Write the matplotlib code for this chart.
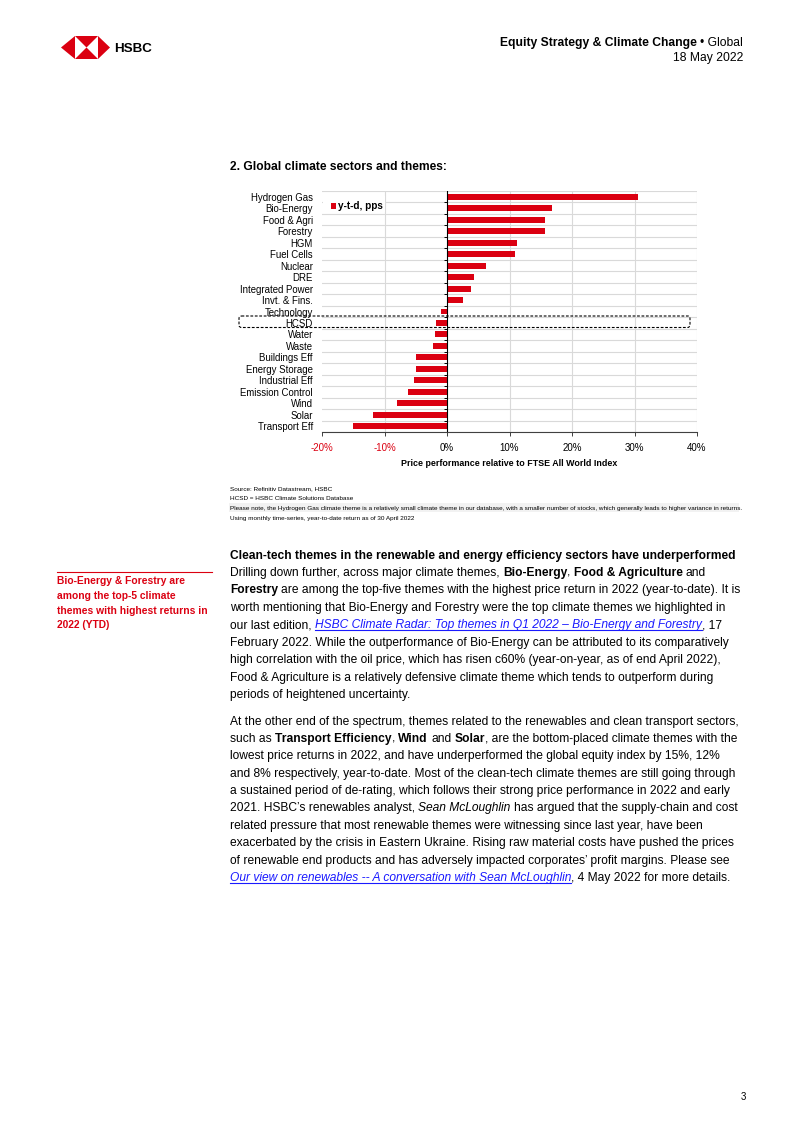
import matplotlib
matplotlib.use('Agg')
import matplotlib.pyplot as plt
from matplotlib import font_manager
from matplotlib.patches import Polygon, FancyBboxPatch, Rectangle
import numpy as np

# chart data (y-t-d, pps relative to FTSE All World)
themes = ['Hydrogen Gas', 'Bio-Energy', 'Food & Agri', 'Forestry', 'HGM', 'Fuel Cells',
          'Nuclear', 'DRE', 'Integrated Power', 'Invt. & Fins.', 'Technology', 'HCSD',
          'Water', 'Waste', 'Buildings Eff', 'Energy Storage', 'Industrial Eff',
          'Emission Control', 'Wind', 'Solar', 'Transport Eff']
ytd = [30.5, 16.8, 15.7, 15.6, 11.2, 10.8, 6.2, 4.3, 3.8, 2.5, -0.9, -1.8,
       -2.0, -2.3, -4.9, -5.0, -5.3, -6.3, -8.0, -11.9, -15.0]
xticks = [-20, -10, 0, 10, 20, 30, 40]
xticklabels = ['-20%', '-10%', '0%', '10%', '20%', '30%', '40%']

notes = ['Source: Refinitiv Datastream, HSBC',
         'HCSD = HSBC Climate Solutions Database',
         'Please note, the Hydrogen Gas climate theme is a relatively small climate theme in our database, '
         'with a smaller number of stocks, which generally leads to higher variance in returns.',
         'Using monthly time-series, year-to-date return as of 30 April 2022']

para1 = [
    [('Clean-tech themes in the renewable and energy efficiency sectors have underperformed', 'b')],
    [('Drilling down further, across major climate themes, ', 'n'), ('Bio-Energy', 'b'), (', ', 'n'),
     ('Food & Agriculture', 'b'), (' and', 'n')],
    [('Forestry', 'b'), (' are among the top-five themes with the highest price return in 2022 (year-to-date). It is', 'n')],
    [('worth mentioning that Bio-Energy and Forestry were the top climate themes we highlighted in', 'n')],
    [('our last edition, ', 'n'), ('HSBC Climate Radar: Top themes in Q1 2022 \u2013 Bio-Energy and Forestry', 'l'),
     (', 17', 'n')],
    [('February 2022. While the outperformance of Bio-Energy can be attributed to its comparatively', 'n')],
    [('high correlation with the oil price, which has risen c60% (year-on-year, as of end April 2022),', 'n')],
    [('Food & Agriculture is a relatively defensive climate theme which tends to outperform during', 'n')],
    [('periods of heightened uncertainty.', 'n')],
]
para2 = [
    [('At the other end of the spectrum, themes related to the renewables and clean transport sectors,', 'n')],
    [('such as ', 'n'), ('Transport Efficiency', 'b'), (', ', 'n'), ('Wind', 'b'), (' and ', 'n'), ('Solar', 'b'),
     (', are the bottom-placed climate themes with the', 'n')],
    [('lowest price returns in 2022, and have underperformed the global equity index by 15%, 12%', 'n')],
    [('and 8% respectively, year-to-date. Most of the clean-tech climate themes are still going through', 'n')],
    [('a sustained period of de-rating, which follows their strong price performance in 2022 and early', 'n')],
    [('2021. HSBC\u2019s renewables analyst, ', 'n'), ('Sean McLoughlin', 'i'),
     (' has argued that the supply-chain and cost', 'n')],
    [('related pressure that most renewable themes were witnessing since last year, have been', 'n')],
    [('exacerbated by the crisis in Eastern Ukraine. Rising raw material costs have pushed the prices', 'n')],
    [('of renewable end products and has adversely impacted corporates\u2019 profit margins. Please see', 'n')],
    [('Our view on renewables -- A conversation with Sean McLoughlin', 'l'), (', 4 May 2022 for more details.', 'n')],
]
sidenote = ['Bio-Energy & Forestry are', 'among the top-5 climate', 'themes with highest returns in', '2022 (YTD)']

RED = '#DB0011'
LINK = '#1a1aff'
GRID = '#d9d9d9'
W, H = 802, 1133
BODY = 8.65

names = set(f.name for f in font_manager.fontManager.ttflist)
SANS = 'Liberation Sans' if 'Liberation Sans' in names else 'DejaVu Sans'
NARROW = 'Liberation Sans Narrow' if 'Liberation Sans Narrow' in names else SANS
plt.rcParams['font.family'] = [SANS, 'DejaVu Sans']

fig = plt.figure(figsize=(W / 100, H / 100), dpi=100)
page = fig.add_axes([0, 0, 1, 1])
page.set_xlim(0, W)
page.set_ylim(H, 0)
page.axis('off')
rend = fig.canvas.get_renderer()


def width(t):
    return t.get_window_extent(renderer=rend).width


def style(st, size, color):
    kw = dict(fontsize=size, va='baseline', ha='left', color=color)
    if st == 'b':
        kw['fontweight'] = 'bold'
    if st in ('i', 'l'):
        kw['fontstyle'] = 'italic'
    if st == 'l':
        kw['color'] = LINK
    return kw


def space_w(st, size):
    a = page.text(0, 0, 'a a', **style(st, size, 'k'))
    b = page.text(0, 0, 'aa', **style(st, size, 'k'))
    w = width(a) - width(b)
    a.remove()
    b.remove()
    return w


def runs(x, y, parts, size=BODY, color='black', right=None):
    if right is not None:
        total = 0
        for txt, st in parts:
            t = page.text(0, 0, txt.strip(), **style(st, size, color))
            sw = space_w(st, size)
            total += width(t) + sw * (len(txt) - len(txt.lstrip()) + len(txt) - len(txt.rstrip()))
            t.remove()
        x = right - total
    for txt, st in parts:
        sw = space_w(st, size)
        x += sw * (len(txt) - len(txt.lstrip()))
        t = page.text(x, y, txt.strip(), **style(st, size, color))
        w = width(t)
        if st == 'l':
            page.plot([x, x + w], [y + 1.8, y + 1.8], color=LINK, lw=0.8)
        x += w + sw * (len(txt) - len(txt.rstrip()))


def fit(x, y, txt, target, ha='left', **kw):
    t = page.text(x, y, txt, fontsize=10, ha=ha, va='baseline', **kw)
    t.set_fontsize(10 * target / width(t))
    return t


# header
hexa = [(61, 47.5), (75, 36), (98, 36), (110, 47.5), (98, 59), (75, 59)]
page.add_patch(Polygon(hexa, closed=True, facecolor='white', edgecolor='none'))
page.add_patch(Polygon([(61, 47.5), (75, 36), (75, 59)], facecolor=RED, edgecolor='none'))
page.add_patch(Polygon([(110, 47.5), (98, 36), (98, 59)], facecolor=RED, edgecolor='none'))
page.add_patch(Polygon([(75, 36), (98, 36), (86.5, 47.5)], facecolor=RED, edgecolor='none'))
page.add_patch(Polygon([(75, 59), (98, 59), (86.5, 47.5)], facecolor=RED, edgecolor='none'))
page.text(114, 52.5, 'HSBC', fontsize=9.6, fontweight='bold', va='baseline')
runs(0, 46, [('Equity Strategy & Climate Change', 'b'), (' \u2022 Global', 'n')], size=8.75, right=743)
runs(0, 61, [('18 May 2022', 'n')], size=8.75, right=743)

# chart title
fit(230, 170, '2. Global climate sectors and themes:', 215, fontweight='bold')

# chart
n = len(themes)
ax = fig.add_axes([322 / W, 1 - 432 / H, 375 / W, 241 / H])
ax.patch.set_visible(False)
ax.barh(np.arange(n), ytd, height=0.52, color=RED, zorder=2)
ax.set_xlim(-20, 40)
ax.set_ylim(n - 0.5, -0.5)
for b in np.arange(-0.5, n):
    ax.axhline(b, color=GRID, lw=0.8, zorder=0)
for v in [-10, 10, 20, 30, 40]:
    ax.axvline(v, color=GRID, lw=0.8, zorder=0)
ax.axvline(0, color='black', lw=0.8, zorder=3)
ax.hlines(np.arange(0.5, n - 1), -0.5, 0, color='black', lw=0.7, zorder=3)
for s in ['top', 'right', 'left']:
    ax.spines[s].set_visible(False)
ax.spines['bottom'].set_color('#404040')
ax.spines['bottom'].set_linewidth(0.8)
ax.set_xticks(xticks)
ax.set_xticklabels(xticklabels, fontsize=7)
for lab, v in zip(ax.get_xticklabels(), xticks):
    lab.set_color(RED if v < 0 else 'black')
ax.tick_params(axis='x', length=3, width=0.7, color='#404040', pad=5)
ax.set_yticks(np.arange(n))
ax.set_yticklabels(themes, fontsize=6.9, family=[NARROW, 'DejaVu Sans'])
ax.tick_params(axis='y', length=0, pad=6.5)

# legend
ax.add_patch(Rectangle((323, 196), 62, 16, transform=page.transData, facecolor='white',
                       edgecolor='none', zorder=1, clip_on=False))
ax.add_patch(Rectangle((331, 203), 5, 5.5, transform=page.transData, facecolor=RED,
                       edgecolor='none', zorder=3, clip_on=False))
ax.text(338, 209, 'y-t-d, pps', transform=page.transData, fontsize=7.2, fontweight='bold',
        family=[NARROW, 'DejaVu Sans'], va='baseline', zorder=3)

# dashed highlight box around HCSD
ax.add_patch(FancyBboxPatch((239, 316), 451, 11.5, boxstyle='round,pad=0,rounding_size=2.5',
                            transform=page.transData, facecolor='none', edgecolor='black',
                            lw=0.8, ls=(0, (2.5, 1.5)), zorder=5, clip_on=False))

fit(509.5, 466, 'Price performance relative to FTSE All World Index', 215, ha='center',
    fontweight='bold', family=[NARROW, 'DejaVu Sans'])

# notes
page.add_patch(Rectangle((229, 503), 510, 9, facecolor='#f2f2f2', edgecolor='none'))
note_size = None
for i, line in enumerate(notes):
    t = page.text(230, 490.5 + i * 9.7, line, va='baseline', family=[NARROW, 'DejaVu Sans'], fontsize=5)
    if i == 2:
        note_size = 5 * 521 / width(t)
for t in page.texts[-4:]:
    t.set_fontsize(note_size)

# side note
page.plot([57, 212], [571.5, 571.5], color=RED, lw=0.8)
for i, line in enumerate(sidenote):
    page.text(57, 584.5 + i * 14.6, line, fontsize=7.4, fontweight='bold', color=RED, va='baseline')

# body text
for i, parts in enumerate(para1):
    runs(230, 558.5 + i * 17.45, parts)
for i, parts in enumerate(para2):
    runs(230, 724.5 + i * 17.4, parts)

page.text(741, 1100, '3', fontsize=7, va='baseline')

fig.savefig('out.png', dpi=100)
